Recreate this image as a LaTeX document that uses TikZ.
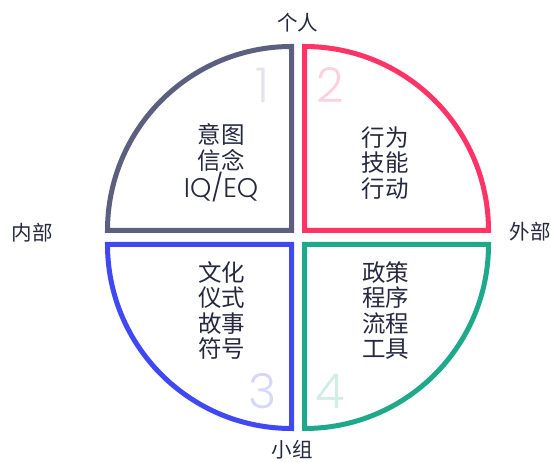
\documentclass[tikz,border=0pt]{standalone}
\usepackage{fontspec}
\setmainfont{Poppins}
\newfontfamily\lightfont{Poppins Light}
\newfontfamily\cjk{Noto Sans CJK SC}
\definecolor{cgray}{HTML}{5C5F7F}
\definecolor{cpink}{HTML}{FF3366}
\definecolor{cblue}{HTML}{3F48F2}
\definecolor{cteal}{HTML}{1EA98B}
\definecolor{nA}{HTML}{E4E4EC}
\definecolor{nB}{HTML}{FFD1DD}
\definecolor{nC}{HTML}{D5D7FB}
\definecolor{nD}{HTML}{D2EDE6}
\definecolor{ink}{HTML}{262840}
\tikzset{
  quad/.style={line width=5pt, line join=miter},
  body/.style={text=ink, align=center, font=\cjk\fontsize{23.5}{25.5}\selectfont, inner sep=0pt},
  axis/.style={text=ink, font=\cjk\fontsize{20.5}{24}\selectfont, inner sep=0pt},
  num/.style={font=\lightfont\fontsize{48}{50}\selectfont, inner sep=0pt}
}
\begin{document}
\begin{tikzpicture}[x=1pt,y=1pt]
\useasboundingbox (0,0) rectangle (551,462);
% quadrants
\draw[quad, cgray] (291.5,231.5) -- ++(0,184) arc[start angle=90, end angle=180, radius=184] -- cycle;
\draw[quad, cpink] (304.5,231.5) -- ++(0,184) arc[start angle=90, end angle=0, radius=184] -- cycle;
\draw[quad, cblue] (291.5,217.5) -- ++(0,-184) arc[start angle=270, end angle=180, radius=184] -- cycle;
\draw[quad, cteal] (304.5,217.5) -- ++(0,-184) arc[start angle=-90, end angle=0, radius=184] -- cycle;
% numbers
\node[num, text=nA] (n1) at (263,377) {1};
\node[num, text=nB] (n2) at (330,377) {2};
\node[num, text=nC] (n3) at (263,71) {3};
\node[num, text=nD] (n4) at (330,71) {4};
% quadrant texts
\node[body] (t1) at (221,299) {意图\\信念\\{\lightfont\fontsize{27}{25.5}\selectfont IQ/EQ}};
\node[body] (t2) at (385,299) {行为\\技能\\行动};
\node[body] (t3) at (221.5,151.5) {文化\\仪式\\故事\\符号};
\node[body] (t4) at (385.5,151.5) {政策\\程序\\流程\\工具};
% axis labels
\node[axis] (top) at (297.5,439) {个人};
\node[axis] (left) at (32,229) {内部};
\node[axis] (right) at (530,230) {外部};
\node[axis] (bottom) at (292,12) {小组};
\end{tikzpicture}
\end{document}
